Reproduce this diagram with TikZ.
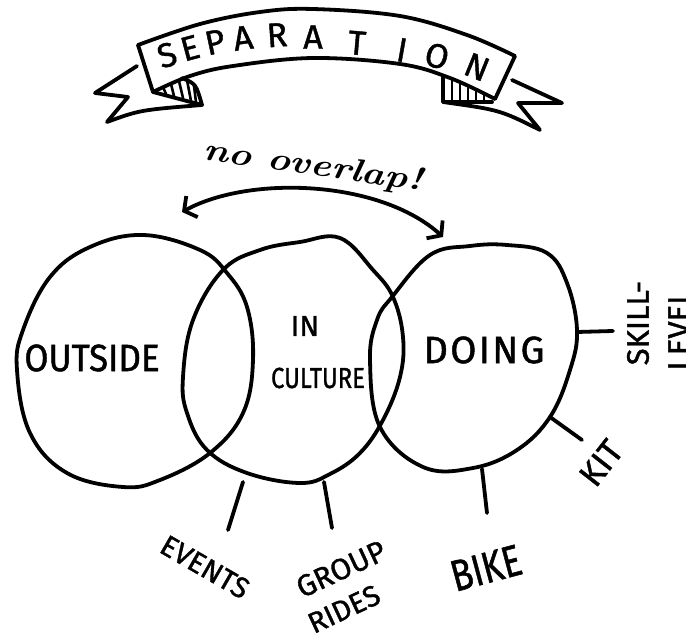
\documentclass[tikz,border=0pt]{standalone}
\usepackage{fontspec}
\newfontfamily\printfont{Fira Sans}[FakeBold=1.2]
\usetikzlibrary{arrows.meta}
\begin{document}
\begin{tikzpicture}[x=1pt,y=-1pt,
  ink/.style={line width=3.8pt,line cap=round,line join=round},
  hatch/.style={line width=2.6pt,line cap=round},
  caps/.style={inner sep=0pt,font=\printfont\fontsize{#1}{#1}\selectfont},
  caps/.default=26,
  bannerletter/.style={inner sep=0pt,font=\printfont\fontsize{34}{34}\selectfont}]
\useasboundingbox (0,0) rectangle (686,634);

% ---- banner band ----
\draw[ink] plot[smooth,tension=0.6] coordinates {(138,45) (200,24) (260,12) (313,9) (400,16) (467,35) (515,56)}
  -- (495,99);
\draw[ink] plot[smooth,tension=0.6] coordinates {(495,99) (450,78) (400,64) (313,58) (233,66) (190,76) (153,92)}
  -- (138,45);
% left tail and fold
\draw[ink] (137,66) -- (95,93) -- (128,97) -- (107,122) .. controls (140,110) .. (202,105);
\draw[ink] (153,92) -- (202,105) .. controls (196,84) .. (182,78);
\foreach \xa/\ya/\xb/\yb in {163/87/166/94, 171/84/174/96, 179/81/183/98, 187/80/191/101, 194/86/196/102}
  \draw[hatch] (\xa,\ya) -- (\xb,\yb);
% right tail and fold
\draw[ink] (512,80) -- (562,103) -- (518,103) -- (540,130) .. controls (500,110) .. (443,102);
\draw[ink] (443,77) -- (443,102) -- (492,102);
\foreach \xx/\yy in {452/80, 460/83, 468/86, 476/89, 484/93}
  \draw[hatch] (\xx,\yy) -- (\xx,101);

% ---- banner title ----
\node[bannerletter,rotate=18] (t1) at (167,55) {S};
\node[bannerletter,rotate=15] (t2) at (190,48) {E};
\node[bannerletter,rotate=12] (t3) at (215,42) {P};
\node[bannerletter,rotate=8]  (t4) at (243,38) {A};
\node[bannerletter,rotate=4]  (t5) at (277,35) {R};
\node[bannerletter,rotate=0]  (t6) at (313,37) {A};
\node[bannerletter,rotate=-5] (t7) at (357,43) {T};
\node[bannerletter,rotate=-10](t8) at (402,50) {I};
\node[bannerletter,rotate=-15](t9) at (437,56) {O};
\node[bannerletter,rotate=-22](t10) at (477,67) {N};

% ---- no overlap arrow ----
\node[inner sep=0pt,rotate=-8,font=\fontsize{32}{32}\selectfont\bfseries\itshape] (nolap) at (313,167) {\scalebox{1.22}[1]{no overlap!}};
\coordinate (arL) at (182,212);
\coordinate (arR) at (443,237);
\draw[ink,{Straight Barb[length=9pt,width=24pt]}-{Straight Barb[length=9pt,width=24pt]}]
  (arL) .. controls (250,175) and (380,180) .. (arR);

% ---- the three sets ----
\draw[ink] plot[smooth cycle,tension=0.65] coordinates {(143,235) (200,250) (227,273) (247,307) (253,360) (243,413) (210,453) (160,480) (123,487) (67,473) (30,433) (17,370) (23,330) (50,277) (90,247)};
\draw[ink] plot[smooth cycle,tension=0.65] coordinates {(340,238) (373,270) (393,297) (403,337) (400,377) (383,420) (360,453) (330,474) (300,483) (247,473) (207,450) (187,413) (183,377) (193,320) (223,270) (260,250) (300,242)};
\draw[ink] plot[smooth cycle,tension=0.65] coordinates {(392,297) (430,255) (470,246) (507,245) (547,253) (567,283) (577,330) (570,370) (550,417) (517,450) (473,468) (423,467) (380,427) (370,360) (377,320)};

\node[caps=38] (outside) at (92,358) {\scalebox{0.92}[1]{OUTSIDE}};
\node[caps=29] (in) at (305,326) {IN};
\node[caps=29] (culture) at (318,378) {\scalebox{0.82}[1]{CULTURE}};
\node[caps=38] (doing) at (484,350) {\addfontfeature{LetterSpace=6}DOING};

% ---- spokes ----
\coordinate (evA) at (243,482); \coordinate (evB) at (228,530);
\coordinate (grA) at (324,482); \coordinate (grB) at (332,528);
\coordinate (biA) at (482,469); \coordinate (biB) at (487,513);
\coordinate (kiA) at (550,417); \coordinate (kiB) at (582,440);
\coordinate (skA) at (577,332); \coordinate (skB) at (613,331);
\foreach \p in {ev,gr,bi,ki,sk} \draw[ink] (\p A) -- (\p B);

\node[caps=29,rotate=-30] (events) at (205,567) {EVENTS};
\node[caps=30,rotate=25] (group) at (341,569) {GROUP};
\node[caps=29,rotate=25] (rides) at (344,609) {RIDES};
\node[caps=44,rotate=15] (bike) at (486,568) {\scalebox{0.8}[1]{BIKE}};
\node[caps=34,rotate=52] (kit) at (601,463) {KIT};
\node[caps=31,rotate=90] (skill) at (638,323) {SKILL-};
\node[caps=31,rotate=90] (level) at (679,330) {LEVEL};
\end{tikzpicture}
\end{document}
